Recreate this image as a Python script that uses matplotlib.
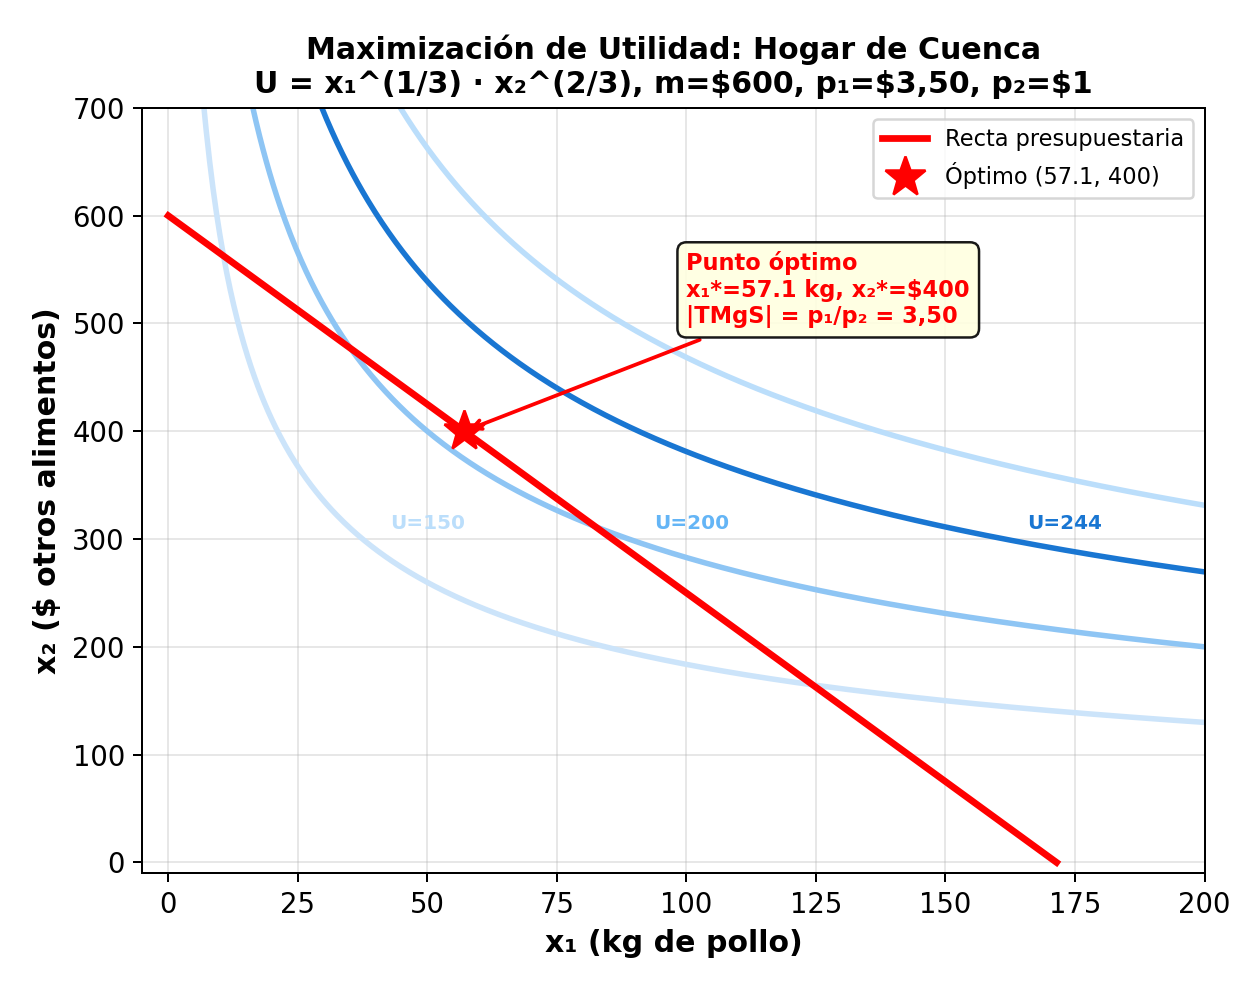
import numpy as np
import matplotlib
matplotlib.use("Agg")
import matplotlib.pyplot as plt

# datos del problema
m = 600
p1 = 3.5
p2 = 1
x1_opt = 57.1
x2_opt = 400
u_levels = [150, 200, 244, 280]
u_colors = ['#CCE4FA', '#8EC5F4', '#1976D2', '#BBDEFB']
u_labels = ['U=150', 'U=200', 'U=244']
label_colors = ['#BBDEFB', '#64B5F6', '#1976D2']
label_x = [50, 101, 173]
label_y = [314, 314, 314]

fig, ax = plt.subplots(figsize=(7, 5.5), dpi=180)

x1 = np.linspace(1, 200, 600)
for u, c in zip(u_levels, u_colors):
    x2 = u ** 1.5 / np.sqrt(x1)
    ax.plot(x1, x2, color=c, linewidth=2.2)

for lab, c, lx, ly in zip(u_labels, label_colors, label_x, label_y):
    ax.text(lx, ly, lab, color=c, fontsize=8, fontweight='bold', ha='center', va='center')

xb = np.linspace(0, m / p1, 100)
ax.plot(xb, (m - p1 * xb) / p2, color='red', linewidth=2.7, label='Recta presupuestaria')
ax.plot(x1_opt, x2_opt, marker='*', color='red', markersize=17, linestyle='none',
        zorder=5, label='Óptimo (57.1, 400)')

ax.annotate('Punto óptimo\nx₁*=57.1 kg, x₂*=$400\n|TMgS| = p₁/p₂ = 3,50',
            xy=(x1_opt, x2_opt), xytext=(100, 500),
            fontsize=9, fontweight='bold', color='red',
            bbox=dict(boxstyle='round,pad=0.4', facecolor='lightyellow', edgecolor='black', alpha=0.9),
            arrowprops=dict(arrowstyle='->', color='red', lw=1.5))

ax.set_xlim(-5, 200)
ax.set_ylim(-10, 700)
ax.set_xlabel('x₁ (kg de pollo)', fontsize=12, fontweight='bold')
ax.set_ylabel('x₂ ($ otros alimentos)', fontsize=12, fontweight='bold')
ax.set_title('Maximización de Utilidad: Hogar de Cuenca\n'
             'U = x₁^(1/3) · x₂^(2/3), m=$600, p₁=$3,50, p₂=$1',
             fontsize=12, fontweight='bold')
ax.tick_params(labelsize=11)
ax.grid(True, alpha=0.3)
ax.legend(loc='upper right', fontsize=9)

plt.subplots_adjust(left=0.113, right=0.956, top=0.891, bottom=0.118)
plt.savefig('out.png', dpi=180)
